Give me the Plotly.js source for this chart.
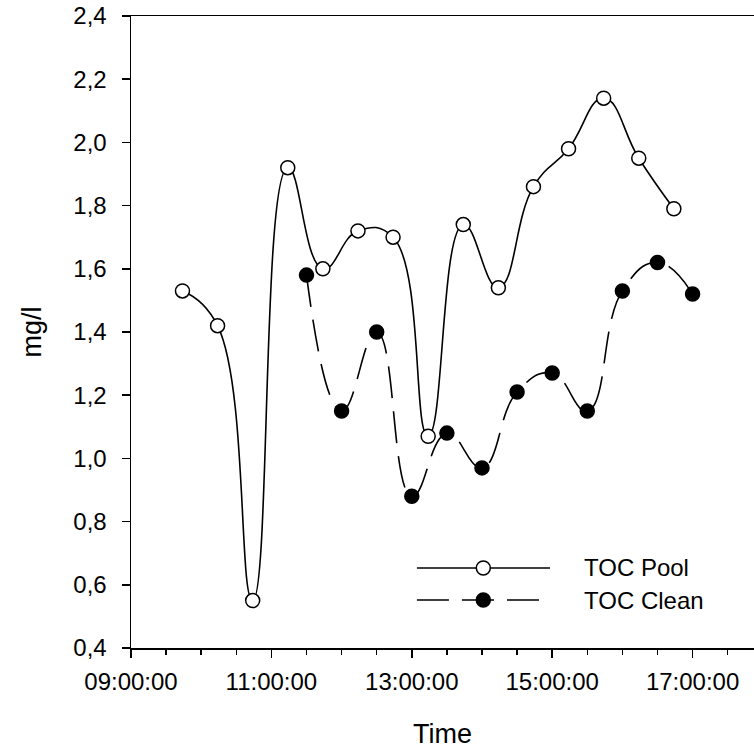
<!DOCTYPE html>
<html>
<head>
<meta charset="utf-8">
<script src="https://cdn.plot.ly/plotly-3.0.1.min.js"></script>
<style>
html,body{margin:0;padding:0;overflow:hidden;background:#fff;}
#chart{width:754px;height:750px;}
</style>
</head>
<body>
<div id="chart"></div>
<script>
// ---- data ----
const day = '2000-01-01 ';
const poolTimes = ['09:44','10:14','10:44','11:14','11:44','12:14','12:44','13:14','13:44','14:14','14:44','15:14','15:44','16:14','16:44'];
const poolValues = [1.53,1.42,0.55,1.92,1.60,1.72,1.70,1.07,1.74,1.54,1.86,1.98,2.14,1.95,1.79];
const cleanTimes = ['11:30','12:00','12:30','13:00','13:30','14:00','14:30','15:00','15:30','16:00','16:30','17:00'];
const cleanValues = [1.58,1.15,1.40,0.88,1.08,0.97,1.21,1.27,1.15,1.53,1.62,1.52];
const seriesNames = ['TOC Pool','TOC Clean'];
const yTickVals = [0.4,0.6,0.8,1.0,1.2,1.4,1.6,1.8,2.0,2.2,2.4];

const FONT = '"Liberation Sans", Arial, sans-serif';
const FS = 24;
const TFS = 27;

const traces = [
  {
    x: poolTimes.map(t => day + t), y: poolValues, name: seriesNames[0],
    type: 'scatter', mode: 'lines+markers',
    line: {color: '#000', width: 1.6, shape: 'spline', smoothing: 1.3},
    marker: {symbol: 'circle', size: 14, color: '#fff', line: {color: '#000', width: 1.5}},
    showlegend: false, cliponaxis: false
  },
  {
    x: cleanTimes.map(t => day + t), y: cleanValues, name: seriesNames[1],
    type: 'scatter', mode: 'lines+markers',
    line: {color: '#000', width: 1.6, shape: 'spline', smoothing: 1.3, dash: '32px,13px'},
    marker: {symbol: 'circle', size: 14, color: '#000', line: {color: '#000', width: 1.5}},
    showlegend: false, cliponaxis: false
  }
];

// manual legend (paper coordinates)
const lgX0 = 0.459, lgX1 = 0.6726, lgMX = 0.5655, lgTX = 0.724;
const lgY = [0.1266, 0.0759];
const shapes = [
  {type:'line', xref:'paper', yref:'paper', x0:lgX0, x1:lgX1, y0:lgY[0], y1:lgY[0], line:{color:'#000', width:1.6}},
  {type:'line', xref:'paper', yref:'paper', x0:lgX0, x1:lgX1, y0:lgY[1], y1:lgY[1], line:{color:'#000', width:1.6, dash:'32px,13px'}},
  {type:'circle', xref:'paper', yref:'paper', xsizemode:'pixel', ysizemode:'pixel', xanchor:lgMX, yanchor:lgY[0], x0:-7, x1:7, y0:-7, y1:7, fillcolor:'#fff', line:{color:'#000', width:1.5}},
  {type:'circle', xref:'paper', yref:'paper', xsizemode:'pixel', ysizemode:'pixel', xanchor:lgMX, yanchor:lgY[1], x0:-7, x1:7, y0:-7, y1:7, fillcolor:'#000', line:{color:'#000', width:1.5}}
];
const annotations = seriesNames.map((n, i) => ({
  text: n, xref:'paper', yref:'paper', x: lgTX, y: lgY[i], xanchor:'left', yanchor:'middle',
  showarrow:false, font:{family:FONT, size:FS, color:'#000'}
}));

const layout = {
  width: 754, height: 750,
  margin: {l: 131, r: 0, t: 16, b: 102, pad: 0},
  paper_bgcolor: '#fff', plot_bgcolor: '#fff',
  separators: ',.',
  font: {family: FONT, size: FS, color: '#000'},
  showlegend: false,
  xaxis: {
    type: 'date',
    range: [day + '09:00:00', day + '17:52:30'],
    tick0: day + '09:00:00', dtick: 7200000,
    tickformat: '%H:%M:%S',
    ticks: 'outside', ticklen: 8, tickwidth: 1.5, tickcolor: '#000',
    ticklabelstandoff: 4,
    minor: {dtick: 1800000, ticks: 'outside', ticklen: 5, tickwidth: 1.5, tickcolor: '#000', showgrid: false},
    showline: true, linecolor: '#000', linewidth: 1.5, mirror: true,
    showgrid: false, zeroline: false,
    tickfont: {family: FONT, size: FS, color: '#000'},
    title: {text: 'Time', font: {family: FONT, size: TFS, color: '#000'}, standoff: 30}
  },
  yaxis: {
    range: [0.4, 2.4],
    tickvals: yTickVals, tickformat: '.1f',
    ticks: 'outside', ticklen: 8, tickwidth: 1.5, tickcolor: '#000',
    ticklabelstandoff: 10,
    showline: true, linecolor: '#000', linewidth: 1.5, mirror: false,
    showgrid: false, zeroline: false,
    tickfont: {family: FONT, size: FS, color: '#000'},
    title: {text: 'mg/l', font: {family: FONT, size: TFS, color: '#000'}, standoff: 24}
  },
  shapes: shapes,
  annotations: annotations
};

Plotly.newPlot('chart', traces, layout, {displayModeBar: false, staticPlot: true});
</script>
</body>
</html>
